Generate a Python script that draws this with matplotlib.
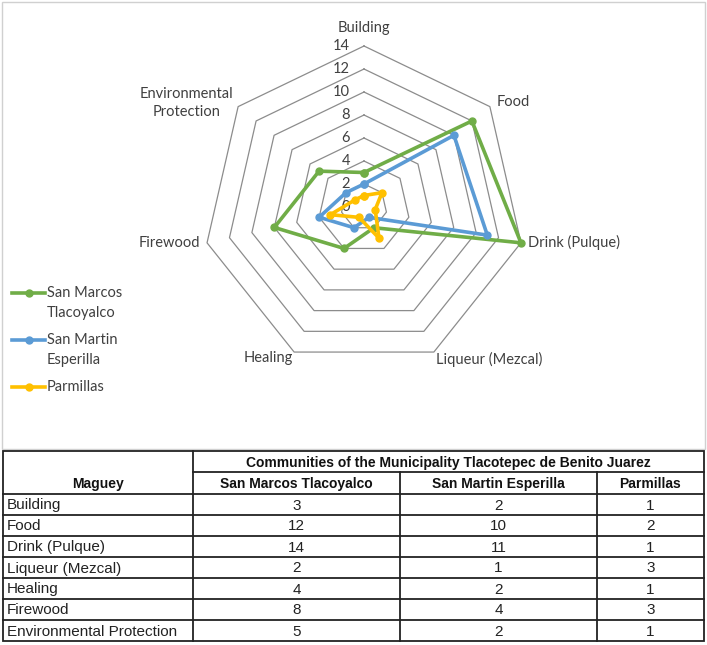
import numpy as np
import matplotlib
matplotlib.use('Agg')
import matplotlib.pyplot as plt
from matplotlib.patches import Rectangle

# data
categories = ['Building', 'Food', 'Drink (Pulque)', 'Liqueur (Mezcal)',
              'Healing', 'Firewood', 'Environmental Protection']
axis_labels = ['Building', 'Food', 'Drink (Pulque)', 'Liqueur (Mezcal)',
               'Healing', 'Firewood', 'Environmental\nProtection']
san_marcos = [3, 12, 14, 2, 4, 8, 5]
san_martin = [2, 10, 11, 1, 2, 4, 2]
parmillas = [1, 2, 1, 3, 1, 3, 1]
series_values = [san_marcos, san_martin, parmillas]
legend_names = ['San Marcos\nTlacoyalco', 'San Martin\nEsperilla', 'Parmillas']
table_cols = ['San Marcos Tlacoyalco', 'San Martin Esperilla', 'Parmillas']
table_title = 'Communities of the Municipality Tlacotepec de Benito Juarez'
ticks = [0, 2, 4, 6, 8, 10, 12, 14]

colors = ['#70AD47', '#5B9BD5', '#FFC000']
txt = '#404040'
chart_font = ['Lato', 'DejaVu Sans']
table_font = ['Liberation Sans', 'DejaVu Sans']

W, H = 707, 645
fig = plt.figure(figsize=(W / 100, H / 100), dpi=100)

# background axes in pixel units (frame, legend, table)
bg = fig.add_axes([0, 0, 1, 1])
bg.set_xlim(0, W)
bg.set_ylim(H, 0)
bg.axis('off')
bg.add_patch(Rectangle((1.5, 1.5), 703, 447, fill=False, ec='#d0d0d0', lw=1))

# radar
cx, cy, R = 364, 207, 161
ax = fig.add_axes([(cx - R) / W, (H - cy - R) / H, 2 * R / W, 2 * R / H],
                  projection='polar')
ax.set_theta_zero_location('N')
ax.set_theta_direction(-1)
ax.set_ylim(0, 14)
ax.grid(False)
ax.set_xticks([])
ax.set_yticks([])
ax.spines['polar'].set_visible(False)
ax.patch.set_alpha(0)

n = len(categories)
angles = np.linspace(0, 2 * np.pi, n, endpoint=False)
closed = np.append(angles, angles[0])

for t in ticks[1:]:
    ax.plot(closed, [t] * (n + 1), color='#8c8c8c', lw=0.9, zorder=1, clip_on=False)

for t in ticks:
    ax.annotate(str(t), xy=(0, t), xytext=(-14, 0), textcoords='offset pixels',
                ha='right', va='center', fontsize=10.5, color=txt, family=chart_font)

for vals, c in zip(series_values, colors):
    ax.plot(closed, vals + vals[:1], color=c, lw=2.6, marker='o', ms=5,
            mfc=c, mec=c, zorder=3, clip_on=False)

# category labels
lab_pos = [((0, 18), 'center', 'center'),
           ((7, 5), 'left', 'center'),
           ((7, 0), 'left', 'center'),
           ((2, -7), 'left', 'center'),
           ((-1, -6), 'right', 'center'),
           ((-7, 0), 'right', 'center'),
           ((-5, 4), 'right', 'center')]
for a, lab, (off, ha, va) in zip(angles, axis_labels, lab_pos):
    ax.annotate(lab, xy=(a, 14), xytext=off, textcoords='offset pixels',
                ha=ha, va=va, multialignment='center', fontsize=10.5,
                color=txt, family=chart_font, linespacing=1.35)

# legend
y = 293
for name, c in zip(legend_names, colors):
    bg.plot([12, 45], [y, y], color=c, lw=2.6)
    bg.plot([28.5], [y], 'o', color=c, ms=5)
    for line in name.split('\n'):
        bg.text(47, y, line, ha='left', va='center', fontsize=10.5,
                color=txt, family=chart_font)
        y += 20
    y += 7

# table
col_x = [3, 193, 400, 597, 704]
row_y = [451, 472, 494, 515, 536, 557, 578, 599, 620, 641]
lc, lw = '#222222', 1.3
bg.add_patch(Rectangle((col_x[0], row_y[0]), col_x[-1] - col_x[0],
                       row_y[-1] - row_y[0], fill=False, ec=lc, lw=lw))
bg.plot([col_x[1], col_x[1]], [row_y[0], row_y[-1]], color=lc, lw=lw)
for x in col_x[2:4]:
    bg.plot([x, x], [row_y[1], row_y[-1]], color=lc, lw=lw)
bg.plot([col_x[1], col_x[-1]], [row_y[1], row_y[1]], color=lc, lw=lw)
for yy in row_y[2:-1]:
    bg.plot([col_x[0], col_x[-1]], [yy, yy], color=lc, lw=lw)

bg.text((col_x[0] + col_x[1]) / 2, (row_y[1] + row_y[2]) / 2 + 1, 'Maguey',
        ha='center', va='center', fontsize=10, fontweight='bold',
        family=table_font, color='#111111')
bg.text((col_x[1] + col_x[-1]) / 2, (row_y[0] + row_y[1]) / 2 + 1, table_title,
        ha='center', va='center', fontsize=10, fontweight='bold',
        family=table_font, color='#111111')
for j, name in enumerate(table_cols):
    bg.text((col_x[j + 1] + col_x[j + 2]) / 2, (row_y[1] + row_y[2]) / 2 + 1, name,
            ha='center', va='center', fontsize=10, fontweight='bold',
            family=table_font, color='#111111')

for i, cat in enumerate(categories):
    yc = (row_y[i + 2] + row_y[i + 3]) / 2 + 1
    bg.text(col_x[0] + 4, yc, cat, ha='left', va='center', fontsize=11,
            family=table_font, color='#222222')
    for j, vals in enumerate(series_values):
        bg.text((col_x[j + 1] + col_x[j + 2]) / 2, yc, str(vals[i]),
                ha='center', va='center', fontsize=11,
                family=table_font, color='#222222')

fig.savefig('out.png', dpi=100)
